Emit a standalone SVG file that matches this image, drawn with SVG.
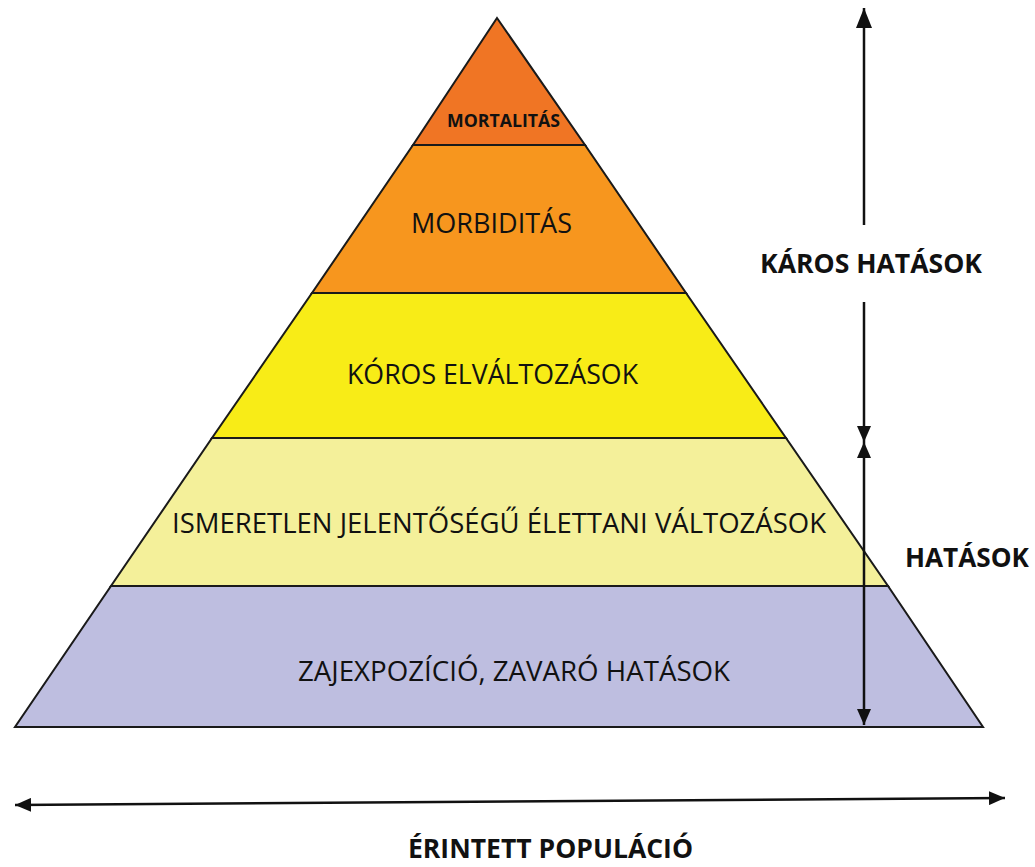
<svg xmlns="http://www.w3.org/2000/svg" width="1035" height="867" viewBox="0 0 1035 867">
<style>
.layer{stroke:#1a1a1a;stroke-width:2;stroke-linejoin:miter}
.lbl{font-family:"Open Sans","Liberation Sans",sans-serif;font-size:27px;fill:#111}
.bold{font-family:"Open Sans","Liberation Sans",sans-serif;font-weight:bold;fill:#111}
.conn{stroke:#111;stroke-width:2.5;fill:none}
</style>
<defs>
<marker id="ah" viewBox="0 0 20 16" refX="20" refY="8" markerWidth="20" markerHeight="16" markerUnits="userSpaceOnUse" orient="auto-start-reverse">
<path d="M0,0 L20,8 L0,16 Z" fill="#111"/>
</marker>
<marker id="ahs" viewBox="0 0 16 14" refX="16" refY="7" markerWidth="16" markerHeight="14" markerUnits="userSpaceOnUse" orient="auto-start-reverse">
<path d="M0,0 L16,7 L0,14 Z" fill="#111"/>
</marker>
</defs>
<rect width="1035" height="867" fill="#fff"/>
<g id="layer-zaj">
<polygon class="layer" points="111,586 888,586 983,727 15,727" fill="#BEBEE0"/>
<text class="lbl" x="298" y="681" textLength="432" lengthAdjust="spacingAndGlyphs">ZAJEXPOZÍCIÓ, ZAVARÓ HATÁSOK</text>
</g>
<g id="layer-ismeretlen">
<polygon class="layer" points="212,438 786,438 888,586 111,586" fill="#F4F09A"/>
<text class="lbl" x="172" y="533" textLength="654" lengthAdjust="spacingAndGlyphs">ISMERETLEN JELENTŐSÉGŰ ÉLETTANI VÁLTOZÁSOK</text>
</g>
<g id="layer-koros">
<polygon class="layer" points="312,293 686,293 786,438 212,438" fill="#F8EC17"/>
<text class="lbl" x="347" y="384" textLength="291" lengthAdjust="spacingAndGlyphs">KÓROS ELVÁLTOZÁSOK</text>
</g>
<g id="layer-morbiditas">
<polygon class="layer" points="413,145 585,145 686,293 312,293" fill="#F7961E"/>
<text class="lbl" x="411" y="233" textLength="161" lengthAdjust="spacingAndGlyphs">MORBIDITÁS</text>
</g>
<g id="layer-mortalitas">
<polygon class="layer" points="497,18 585,145 413,145" fill="#F07524"/>
<text class="bold" x="447" y="127" font-size="17" textLength="113" lengthAdjust="spacingAndGlyphs">MORTALITÁS</text>
</g>
<g id="connectors">
<line class="conn" x1="864" y1="225" x2="864" y2="8" marker-end="url(#ah)"/>
<line class="conn" x1="864" y1="302" x2="864" y2="442" marker-end="url(#ahs)"/>
<line class="conn" x1="864" y1="442" x2="864" y2="725" marker-start="url(#ahs)" marker-end="url(#ahs)"/>
<line class="conn" x1="15" y1="805" x2="1005" y2="798" marker-start="url(#ahs)" marker-end="url(#ahs)"/>
</g>
<g id="label-karos">
<text class="bold" x="760" y="273" font-size="27" textLength="222" lengthAdjust="spacingAndGlyphs">KÁROS HATÁSOK</text>
</g>
<g id="label-hatasok">
<text class="bold" x="905" y="567" font-size="27" textLength="124" lengthAdjust="spacingAndGlyphs">HATÁSOK</text>
</g>
<g id="label-populacio">
<text class="bold" x="408" y="858" font-size="26" textLength="285" lengthAdjust="spacingAndGlyphs">ÉRINTETT POPULÁCIÓ</text>
</g>
</svg>
